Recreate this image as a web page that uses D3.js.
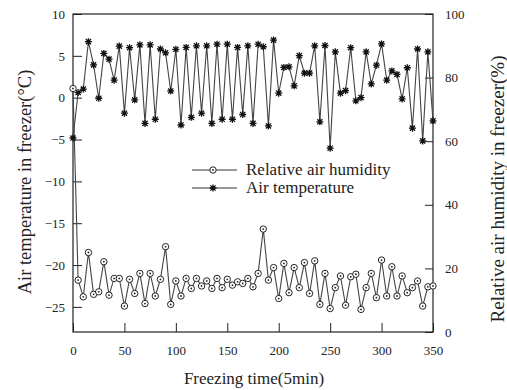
<!DOCTYPE html>
<html>
<head>
<meta charset="utf-8">
<script src="https://cdn.jsdelivr.net/npm/d3@7/dist/d3.min.js"></script>
<style>
  html, body { margin: 0; padding: 0; background: #fff; }
  svg { display: block; }
  svg text { font-family: "Liberation Serif", "Times New Roman", serif !important; fill: #222; }
</style>
</head>
<body>
<svg id="chart" width="507" height="390"></svg>
<script>
// ---- data ----
const times = d3.range(0, 351, 5); // freezing time (5min units)
// circle-marker series (read on the left axis, °C)
const circleSeries = [1.1, -21.8, -23.8, -18.5, -23.5, -23.2, -19.6, -23.6, -21.6, -21.6,
  -24.9, -21.7, -23.4, -21.0, -24.6, -21.0, -23.7, -21.7, -17.8, -24.7,
  -21.9, -23.7, -21.6, -22.8, -21.6, -22.5, -21.9, -22.8, -21.6, -22.7,
  -21.7, -22.4, -22.0, -22.2, -21.6, -22.6, -21.0, -15.7, -21.8, -20.3,
  -24.0, -19.8, -23.3, -20.3, -22.7, -19.7, -23.4, -19.5, -24.7, -21.0,
  -25.2, -22.7, -21.3, -24.8, -21.4, -21.1, -25.3, -22.7, -21.0, -23.9,
  -19.4, -23.7, -20.2, -23.7, -21.3, -23.3, -22.7, -21.9, -24.9, -22.6, -22.5];
// star-marker series (read on the right axis, %)
const starSeries = [61.0, 75.3, 76.4, 91.3, 84.0, 73.5, 87.6, 85.8, 79.2, 89.9,
  68.8, 89.4, 73.0, 90.3, 65.6, 90.3, 66.9, 89.0, 87.8, 75.8,
  88.9, 65.1, 89.5, 67.5, 90.0, 68.8, 90.0, 65.6, 90.5, 66.9,
  90.5, 66.9, 89.5, 68.4, 90.0, 65.6, 90.5, 89.7, 64.8, 91.8,
  75.1, 83.2, 83.4, 77.4, 86.9, 81.4, 81.4, 90.0, 66.1, 90.1,
  57.8, 88.1, 75.1, 75.9, 89.4, 72.7, 73.7, 88.1, 78.0, 83.9,
  90.6, 79.2, 82.1, 81.0, 73.3, 83.1, 64.1, 89.0, 60.1, 88.1, 66.4];
const xTicks = [0, 50, 100, 150, 200, 250, 300, 350];
const leftTicks = [10, 5, 0, -5, -10, -15, -20, -25];
const rightTicks = [0, 20, 40, 60, 80, 100];
const legendLabels = ["Relative air humidity", "Air temperature"];
const xTitle = "Freezing time(5min)";
const leftTitle = "Air temperature in freezer(°C)";
const rightTitle = "Relative air humidity in freezer(%)";

// ---- layout ----
const L = 73, R = 433, T = 14, B = 332;
const FONT = '"Liberation Serif", "Times New Roman", serif';
const svg = d3.select("#chart");

const x = d3.scaleLinear().domain([0, 350]).range([L, R]);
const yL = d3.scaleLinear().domain([-28, 10]).range([B, T]);
const yR = d3.scaleLinear().domain([0, 100]).range([B, T]);

// axes
const gx = svg.append("g").attr("transform", `translate(0,${B})`)
  .call(d3.axisBottom(x).tickValues(xTicks).tickSizeInner(-9).tickSizeOuter(0).tickPadding(14));
const gl = svg.append("g").attr("transform", `translate(${L},0)`)
  .call(d3.axisLeft(yL).tickValues(leftTicks).tickSizeInner(-9).tickSizeOuter(0).tickPadding(8));
const gr = svg.append("g").attr("transform", `translate(${R},0)`)
  .call(d3.axisRight(yR).tickValues(rightTicks).tickSizeInner(-8).tickSizeOuter(0).tickPadding(12));
[gx, gl, gr].forEach(g => {
  g.attr("font-family", FONT).attr("font-size", 13);
  g.select(".domain").remove();
  g.selectAll(".tick line").attr("stroke", "#222");
  g.selectAll(".tick text").attr("fill", "#222");
});

// frame
svg.append("rect").attr("x", L).attr("y", T).attr("width", R - L).attr("height", B - T)
  .attr("fill", "none").attr("stroke", "#222").attr("stroke-width", 1.2);

// lines
const circData = times.map((t, i) => ({ t, v: circleSeries[i] }));
const starData = times.map((t, i) => ({ t, v: starSeries[i] }));
const lineL = d3.line().x(d => x(d.t)).y(d => yL(d.v));
const lineR = d3.line().x(d => x(d.t)).y(d => yR(d.v));

svg.append("path").datum(starData).attr("d", lineR)
  .attr("fill", "none").attr("stroke", "#444").attr("stroke-width", 1.1);
svg.append("path").datum(circData).attr("d", lineL)
  .attr("fill", "none").attr("stroke", "#444").attr("stroke-width", 1.1);

const starPath = "M-3.5,0H3.5M0,-3.5V3.5M-2.6,-2.6L2.6,2.6M-2.6,2.6L2.6,-2.6";
function drawStar(g, cx, cy) {
  g.append("path").attr("d", starPath).attr("transform", `translate(${cx},${cy})`)
    .attr("stroke", "#111").attr("stroke-width", 1.3).attr("fill", "none");
}
function drawCircle(g, cx, cy) {
  g.append("circle").attr("cx", cx).attr("cy", cy).attr("r", 3.2)
    .attr("fill", "#fff").attr("stroke", "#222").attr("stroke-width", 1);
  g.append("circle").attr("cx", cx).attr("cy", cy).attr("r", 0.9).attr("fill", "#222");
}

const gs = svg.append("g");
starData.forEach(d => drawStar(gs, x(d.t), yR(d.v)));
const gc = svg.append("g");
circData.forEach(d => drawCircle(gc, x(d.t), yL(d.v)));

// legend
const lg = svg.append("g");
[170, 188].forEach((ly, i) => {
  lg.append("line").attr("x1", 192).attr("x2", 237).attr("y1", ly).attr("y2", ly)
    .attr("stroke", "#333").attr("stroke-width", 1);
  if (i === 0) drawCircle(lg, 213, ly); else drawStar(lg, 213, ly);
  lg.append("text").attr("x", 246).attr("y", ly + 5).attr("font-size", 17).text(legendLabels[i]);
});

// titles
svg.append("text").attr("x", (L + R) / 2 + 1).attr("y", 384).attr("text-anchor", "middle")
  .attr("font-size", 17).text(xTitle);
svg.append("text").attr("transform", "translate(25,182) rotate(-90)").attr("text-anchor", "middle")
  .attr("dy", "0.35em").attr("font-size", 18.5).text(leftTitle);
svg.append("text").attr("transform", "translate(497,189) rotate(-90)").attr("text-anchor", "middle")
  .attr("dy", "0.35em").attr("font-size", 19).text(rightTitle);
</script>
</body>
</html>
